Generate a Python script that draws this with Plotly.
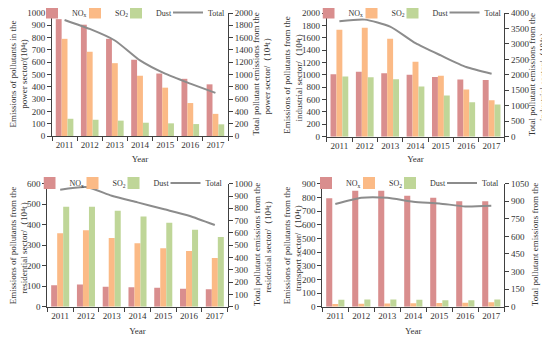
import plotly.graph_objects as go

years = ["2011", "2012", "2013", "2014", "2015", "2016", "2017"]

# Power sector
power_nox = [950, 905, 790, 620, 508, 465, 420]
power_so2 = [790, 685, 592, 490, 393, 268, 180]
power_dust = [140, 132, 125, 108, 103, 97, 95]
power_total = [1887, 1741, 1553, 1229, 1013, 852, 701]

# Industrial sector
ind_nox = [1010, 1050, 1025, 1000, 965, 925, 915]
ind_so2 = [1730, 1760, 1585, 1210, 985, 765, 590]
ind_dust = [975, 960, 930, 810, 665, 555, 520]
ind_total = [3732, 3786, 3560, 3024, 2627, 2252, 2037]

# Residential sector
res_nox = [105, 108, 97, 95, 92, 88, 85]
res_so2 = [358, 373, 335, 310, 285, 272, 237]
res_dust = [487, 487, 468, 440, 410, 375, 340]
res_total = [951, 973, 902, 848, 794, 740, 664]

# Transport sector
tra_nox = [793, 848, 848, 812, 797, 772, 772]
tra_so2 = [20, 22, 24, 25, 27, 28, 32]
tra_dust = [50, 52, 53, 50, 48, 47, 52]
tra_total = [876, 930, 930, 896, 882, 856, 862]

series_names = ["NO<sub>x</sub>", "SO<sub>2</sub>", "Dust", "Total"]

left_titles = [
    "Emissions of pollutants in the<br>power sector/(10⁴t)",
    "Emissions of pollutants from the<br>industrial sector/（10⁴t）",
    "Emissions of pollutants from the<br>residential sector/（10⁴t）",
    "Emissions of pollutants from the<br>transport sector/（10⁴t）",
]
right_titles = [
    "Total pollutant emissions from the<br>power sector/（10⁴t）",
    "Total pollutant emissions from the<br>industrial sector/（10⁴t）",
    "Total pollutant emissions from the<br>residential sector/（10⁴t）",
    "Total pollutant emissions from the<br>transport sector/（10⁴t）",
]

# page has an 8px body margin: figure drawn at (8, 8)
OFF = 8
W, H = 550 - OFF, 338 - OFF

def fx(px):
    return (px - OFF) / W

def fy(py):
    return 1 - (py - OFF) / H

# target page-pixel geometry
panels = [
    dict(data=(power_nox, power_so2, power_dust, power_total), lrange=1000, ldt=100, rrange=2000, rdt=200,
         xd=[52, 228], yd=[136, 13], leg=(72, 115, 156, 208), ly=12.5, tl=18, tr=261, ys=6),
    dict(data=(ind_nox, ind_so2, ind_dust, ind_total), lrange=2000, ldt=200, rrange=4000, rdt=500,
         xd=[326.7, 504.3], yd=[136.7, 13], leg=(348.5, 391.5, 432.5, 484.5), ly=12.5, tl=293, tr=537.5, ys=6),
    dict(data=(res_nox, res_so2, res_dust, res_total), lrange=600, ldt=100, rrange=1000, rdt=100,
         xd=[47.3, 227.7], yd=[306.7, 183.7], leg=(69.5, 112.5, 153.5, 205.5), ly=183, tl=19, tr=263, ys=8),
    dict(data=(tra_nox, tra_so2, tra_dust, tra_total), lrange=900, ldt=100, rrange=1050, rdt=150,
         xd=[322.3, 504.3], yd=[306.7, 183.7], leg=(346, 389, 430, 482), ly=183, tl=293, tr=541, ys=8),
]

colors = ["#D98E8E", "#FBBA86", "#BFD698"]
line_color = "#8C8C8C"
axis_color = "#404040"
text_color = "#333333"
FONT = "Liberation Serif, Times New Roman, serif"
IND = -14
TEXTGAP = IND + 40

fig = go.Figure()
layout = dict(
    width=W, height=H,
    margin=dict(l=0, r=0, t=0, b=0, autoexpand=False),
    paper_bgcolor="white", plot_bgcolor="white",
    barmode="group", bargap=0.3, bargroupgap=0,
    font=dict(family=FONT, size=9, color=text_color),
    showlegend=True,
)
annotations = []

for i, p in enumerate(panels, start=1):
    xname = "x" if i == 1 else f"x{i}"
    yl = "y" if i == 1 else f"y{2*i-1}"
    yr = f"y{2*i}"
    legb = "legend" if i == 1 else f"legend{2*i-1}"
    legt = f"legend{2*i}"
    nox, so2, dust, total = p["data"]
    t_nox, t_so2, t_dust, t_total = p["leg"]
    widths = [t_so2 - t_nox - 31, t_dust - t_so2 - 31, 18]
    for name, vals, c, lw in zip(series_names[:3], (nox, so2, dust), colors, widths):
        fig.add_trace(go.Bar(x=years, y=vals, name=name, marker=dict(color=c, line=dict(width=0)),
                             xaxis=xname, yaxis=yl, legend=legb, legendwidth=lw))
    fig.add_trace(go.Scatter(x=years, y=total, name=series_names[3], mode="lines",
                             line=dict(color=line_color, width=2, shape="spline", smoothing=0.6),
                             xaxis=xname, yaxis=yr, legend=legt))
    xkey = "xaxis" if i == 1 else f"xaxis{i}"
    ylkey = "yaxis" if i == 1 else f"yaxis{2*i-1}"
    yrkey = f"yaxis{2*i}"
    xd = [fx(p["xd"][0]), fx(p["xd"][1])]
    yd = [fy(p["yd"][0]), fy(p["yd"][1])]
    layout[xkey] = dict(domain=xd, anchor=yl, type="category",
                        showline=True, linecolor=axis_color, linewidth=1,
                        ticks="outside", ticklen=4, tickcolor=axis_color, tickson="boundaries",
                        showgrid=False, zeroline=False, tickangle=0,
                        tickfont=dict(size=9, color=text_color),
                        title=dict(text="Year", font=dict(size=9), standoff=p["ys"]))
    layout[ylkey] = dict(domain=yd, anchor=xname, range=[0, p["lrange"]], dtick=p["ldt"],
                         showline=True, linecolor=axis_color, linewidth=1,
                         ticks="outside", ticklen=4, tickcolor=axis_color,
                         showgrid=False, zeroline=False, ticklabeloverflow="allow",
                         tickfont=dict(size=9, color=text_color))
    layout[yrkey] = dict(overlaying=yl, side="right", anchor=xname, range=[0, p["rrange"]], dtick=p["rdt"],
                         showline=True, linecolor=axis_color, linewidth=1,
                         ticks="outside", ticklen=4, tickcolor=axis_color,
                         showgrid=False, zeroline=False, ticklabeloverflow="allow",
                         tickfont=dict(size=9, color=text_color))
    ycen = (yd[0] + yd[1]) / 2
    for txt, cx in ((left_titles[i-1], p["tl"]), (right_titles[i-1], p["tr"])):
        annotations.append(dict(text=txt, xref="paper", yref="paper", x=fx(cx), y=ycen,
                                xanchor="center", yanchor="middle", textangle=-90, showarrow=False,
                                font=dict(size=9, color=text_color)))
    ly = fy(p["ly"])
    layout[legb] = dict(orientation="h", x=fx(t_nox - TEXTGAP), y=ly, xanchor="left", yanchor="middle",
                        bgcolor="rgba(0,0,0,0)", font=dict(size=8), itemwidth=30,
                        indentation=IND, traceorder="normal")
    layout[legt] = dict(orientation="h", x=fx(t_total - 40), y=ly, xanchor="left", yanchor="middle",
                        bgcolor="rgba(0,0,0,0)", font=dict(size=8), itemwidth=30,
                        traceorder="normal")

layout["annotations"] = annotations
fig.update_layout(**layout)
fig.write_html("out.html")
